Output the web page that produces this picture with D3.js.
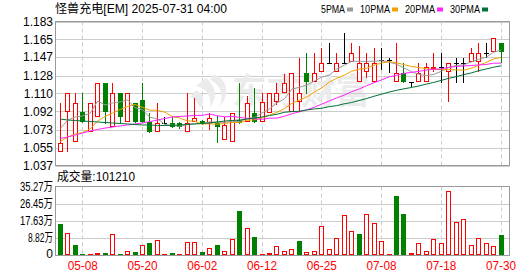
<!DOCTYPE html>
<html>
<head>
<meta charset="utf-8">
<script src="https://d3js.org/d3.v7.min.js"></script>
<style>
  body { margin: 0; background: #fff; }
  svg { display: block; }
  text { font-family: "Liberation Sans", "Noto Sans CJK SC", sans-serif; }
</style>
</head>
<body>
<svg width="530" height="276"></svg>
<script>
// ---- data ----
const title = "怪兽充电[EM] 2025-07-31 04:00";

const dates = [
  "05-05","05-06","05-07","05-08","05-09","05-12","05-13","05-14","05-15","05-16",
  "05-19","05-20","05-21","05-22","05-23","05-27","05-28","05-29","05-30","06-02",
  "06-03","06-04","06-05","06-06","06-09","06-10","06-11","06-12","06-13","06-16",
  "06-17","06-18","06-20","06-23","06-24","06-25","06-26","06-27","06-30","07-01",
  "07-02","07-03","07-07","07-08","07-09","07-10","07-11","07-14","07-15","07-16",
  "07-17","07-18","07-21","07-22","07-23","07-24","07-25","07-28","07-29","07-30"
];

const opens = [
  1.0504, 1.0909, 1.0605, 1.0909, 1.0707, 1.0865, 1.1203, 1.0757, 1.1102, 1.0808,
  1.1000, 1.1034, 1.0808, 1.0707, 1.0801, 1.0796, 1.0796, 1.0707, 1.0808, 1.0818,
  1.0798, 1.0798, 1.0629, 1.0605, 1.0828, 1.0808, 1.0902, 1.0808, 1.0899, 1.1011,
  1.1108, 1.0915, 1.1011, 1.1305, 1.1214, 1.1315, 1.1406, 1.1315, 1.1406, 1.1416,
  1.1214, 1.1315, 1.1214, 1.1436, 1.1436, 1.1214, 1.1305, 1.1214, 1.1214, 1.1214,
  1.1355, 1.1370, 1.1315, 1.1406, 1.1406, 1.1416, 1.1416, 1.1508, 1.1524, 1.1609
];
const highs = [
  1.1000, 1.1102, 1.1102, 1.1102, 1.1000, 1.1203, 1.1203, 1.1203, 1.1102, 1.1102,
  1.1000, 1.1203, 1.0900, 1.1000, 1.0857, 1.0859, 1.0810, 1.1105, 1.1051, 1.0830,
  1.0899, 1.0870, 1.0859, 1.0899, 1.1210, 1.1075, 1.1159, 1.1102, 1.1102, 1.1203,
  1.1295, 1.1305, 1.1457, 1.1508, 1.1508, 1.1558, 1.1609, 1.1508, 1.1710, 1.1609,
  1.1585, 1.1508, 1.1558, 1.1558, 1.1457, 1.1609, 1.1406, 1.1214, 1.1406, 1.1406,
  1.1508, 1.1508, 1.1406, 1.1457, 1.1457, 1.1558, 1.1609, 1.1609, 1.1660, 1.1609
];
const lows = [
  1.0504, 1.0502, 1.0605, 1.0808, 1.0707, 1.0865, 1.0801, 1.0757, 1.0801, 1.0808,
  1.0808, 1.0808, 1.0707, 1.0707, 1.0801, 1.0765, 1.0755, 1.0707, 1.0808, 1.0790,
  1.0730, 1.0605, 1.0629, 1.0605, 1.0798, 1.0808, 1.0808, 1.0808, 1.0899, 1.0983,
  1.1108, 1.0915, 1.0915, 1.1102, 1.1214, 1.1315, 1.1406, 1.1315, 1.1406, 1.1416,
  1.1214, 1.1254, 1.1214, 1.1350, 1.1321, 1.1214, 1.1214, 1.1173, 1.1214, 1.1214,
  1.1321, 1.1214, 1.1011, 1.1214, 1.1214, 1.1416, 1.1321, 1.1474, 1.1524, 1.1422
];
const closes = [
  1.0595, 1.1102, 1.1000, 1.0808, 1.1000, 1.1203, 1.0909, 1.1102, 1.0859, 1.1102,
  1.0808, 1.0808, 1.0707, 1.0801, 1.0801, 1.0765, 1.0765, 1.0796, 1.0849, 1.0798,
  1.0849, 1.0757, 1.0780, 1.0899, 1.0798, 1.1000, 1.0808, 1.1011, 1.1102, 1.1102,
  1.1203, 1.1305, 1.1102, 1.1214, 1.1305, 1.1406, 1.1406, 1.1406, 1.1406, 1.1508,
  1.1406, 1.1406, 1.1406, 1.1436, 1.1436, 1.1305, 1.1214, 1.1214, 1.1305, 1.1365,
  1.1370, 1.1370, 1.1406, 1.1406, 1.1406, 1.1508, 1.1508, 1.1508, 1.1660, 1.1518
];
const prevClose = 1.0655; // close of the day before 05-05

const volumes = [
  159600, 111700, 51500, 6700, 5000, 10000, 10000, 106600, 5000, 19000,
  15500, 49800, 61800, 75500, 5000, 10000, 5000, 65000, 65000, 15500,
  34300, 51500, 19000, 80600, 226500, 137200, 92700, 5000, 10000, 44600,
  20600, 29200, 72000, 13700, 19000, 147700, 30900, 85800, 204300, 122000,
  108100, 209500, 163200, 70500, 5000, 303800, 211100, 10000, 60000, 19000,
  80600, 60000, 329500, 168400, 183800, 49800, 85800, 60000, 44600, 101210
];

// MA values on the first days (window reaches back before 05-05)
const ma5Lead  = [1.0745, 1.0831, 1.0862, 1.0872];
const ma10Lead = [1.0613, 1.0659, 1.0689, 1.0705, 1.0740, 1.0821, 1.0867, 1.0902, 1.0938];
const ma20Lead = [1.0644, 1.0659, 1.0679, 1.0700, 1.0720, 1.0735, 1.0750, 1.0760, 1.0771, 1.0781,
                  1.0791, 1.0801, 1.0816, 1.0831, 1.0847, 1.0862, 1.0867, 1.0872, 1.0877];
const ma30Lead = [1.0841, 1.0831, 1.0826, 1.0821, 1.0816, 1.0811, 1.0806, 1.0801, 1.0796, 1.0791,
                  1.0786, 1.0781, 1.0781, 1.0776, 1.0776, 1.0776, 1.0781, 1.0786, 1.0791, 1.0796,
                  1.0801, 1.0811, 1.0821, 1.0826, 1.0831, 1.0841, 1.0852, 1.0862, 1.0877];

const priceTicks = ["1.183", "1.165", "1.147", "1.128", "1.110", "1.092", "1.073", "1.055", "1.037"];
const volTicks = ["35.27万", "26.45万", "17.63万", "8.82万", "0"];
const xTicks = ["05-08", "05-20", "06-02", "06-12", "06-25", "07-08", "07-18", "07-30"];
const maNames = ["5PMA", "10PMA", "20PMA", "30PMA"];

// ---- layout ----
const svg = d3.select("svg");
const frame = { left: 55.5, right: 509.5, pTop: 21.5, pBot: 165.5, vTop: 186.5, vBot: 255 };
const red = "#ff0000", green = "#008000", black = "#000000";
const maColors = ["#999999", "#f2a100", "#ff22ff", "#007236"];

const x = d3.scaleBand().domain(dates).range([56.6, 504.8]);
const cx = d => x(d) + x.bandwidth() / 2;
const px = d => Math.floor(cx(d)); // pixel column of the wick
const y = d3.scaleLinear().domain([1.037, 1.183]).range([frame.pBot, frame.pTop]);
const yv = d3.scaleLinear().domain([0, 352700]).range([frame.vBot, frame.vTop]);

const bars = dates.map((d, i) => ({
  date: d, o: opens[i], h: highs[i], l: lows[i], c: closes[i], v: volumes[i],
  up: closes[i] >= (i ? closes[i - 1] : prevClose)
}));

// ---- grid ----
const grid = svg.append("g");
priceTicks.forEach(t => {
  grid.append("line")
    .attr("x1", frame.left).attr("x2", frame.right)
    .attr("y1", Math.round(y(+t)) + 0.5).attr("y2", Math.round(y(+t)) + 0.5)
    .attr("stroke", "#cccccc");
});
volTicks.forEach(t => {
  const v = t === "0" ? 0 : parseFloat(t) * 10000;
  grid.append("line")
    .attr("x1", frame.left).attr("x2", frame.right)
    .attr("y1", Math.round(yv(v)) + 0.5).attr("y2", Math.round(yv(v)) + 0.5)
    .attr("stroke", "#cccccc");
});
xTicks.forEach(t => {
  [[frame.pTop, frame.pBot], [frame.vTop, frame.vBot]].forEach(([a, b]) => {
    grid.append("line")
      .attr("x1", px(t) + 0.5).attr("x2", px(t) + 0.5)
      .attr("y1", a).attr("y2", b)
      .attr("stroke", "#cccccc").attr("stroke-dasharray", "4,3");
  });
});

// watermark: logo + name
const wm = svg.append("g").attr("fill", "#ebebeb");
wm.append("path")
  .attr("d", "M214,74 C228,80 230,96 220,106 C224,94 220,84 210,80 Z M206,78 C216,86 218,98 210,107 C212,96 206,88 196,86 Z M196,90 C204,94 206,102 200,108 C198,102 194,98 190,97 Z");
svg.append("text")
  .attr("x", 232).attr("y", 104)
  .attr("font-size", 35).attr("font-weight", "bold")
  .attr("fill", "#ebebeb")
  .attr("textLength", 138).attr("lengthAdjust", "spacingAndGlyphs")
  .style("font-family", "'Noto Sans CJK SC'")
  .text("东方财富");

// ---- candles ----
const candles = svg.append("g").attr("shape-rendering", "crispEdges");
bars.forEach(b => {
  const c = px(b.date);
  const yo = Math.round(y(b.o)), yc = Math.round(y(b.c));
  const yh = Math.round(y(b.h)), yl = Math.round(y(b.l));
  const g = candles.append("g");
  if (b.c > b.o) {
    if (yh < yc) g.append("line").attr("x1", c + 0.5).attr("x2", c + 0.5).attr("y1", yh).attr("y2", yc).attr("stroke", red);
    if (yl > yo) g.append("line").attr("x1", c + 0.5).attr("x2", c + 0.5).attr("y1", yo).attr("y2", yl).attr("stroke", red);
    g.append("rect")
      .attr("x", c - 1.5).attr("width", 4)
      .attr("y", yc + 0.5).attr("height", Math.max(1, yo - yc - 1))
      .attr("fill", "#fff").attr("stroke", red);
  } else if (b.c < b.o) {
    g.append("line").attr("x1", c + 0.5).attr("x2", c + 0.5).attr("y1", yh).attr("y2", yl + 1).attr("stroke", green);
    g.append("rect")
      .attr("x", c - 2).attr("width", 5)
      .attr("y", yo).attr("height", Math.max(1, yc - yo))
      .attr("fill", green);
  } else {
    g.append("line").attr("x1", c + 0.5).attr("x2", c + 0.5).attr("y1", yh).attr("y2", yl + 1).attr("stroke", black);
    g.append("line").attr("x1", c - 2).attr("x2", c + 3).attr("y1", yo + 0.5).attr("y2", yo + 0.5).attr("stroke", black);
  }
});

// ---- moving averages ----
function movingAvg(n, lead) {
  return closes.map((c, i) => i < n - 1 ? lead[i] : d3.mean(closes.slice(i - n + 1, i + 1)));
}
const mas = [movingAvg(5, ma5Lead), movingAvg(10, ma10Lead), movingAvg(20, ma20Lead), movingAvg(30, ma30Lead)];
const line = d3.line().x((v, i) => cx(dates[i])).y(v => y(v));
mas.forEach((m, k) => {
  svg.append("path").datum(m)
    .attr("d", line)
    .attr("fill", "none")
    .attr("stroke", maColors[k])
    .attr("stroke-width", 1);
});

// ---- volume ----
const vol = svg.append("g").attr("shape-rendering", "crispEdges");
bars.forEach(b => {
  const c = px(b.date);
  const top = Math.round(yv(b.v));
  if (b.up) {
    vol.append("rect")
      .attr("x", c - 1.5).attr("width", 4)
      .attr("y", top + 0.5).attr("height", Math.max(0.5, frame.vBot - top - 1))
      .attr("fill", "#fff").attr("stroke", red);
  } else {
    vol.append("rect")
      .attr("x", c - 2).attr("width", 5)
      .attr("y", top).attr("height", Math.max(1, frame.vBot - top))
      .attr("fill", green);
  }
});

// ---- frames ----
[[frame.pTop, frame.pBot], [frame.vTop, frame.vBot + 0.5]].forEach(([a, b]) => {
  svg.append("rect")
    .attr("x", frame.left).attr("y", a)
    .attr("width", frame.right - frame.left).attr("height", b - a)
    .attr("fill", "none").attr("stroke", "#999999")
    .attr("shape-rendering", "crispEdges");
});

// ---- axis labels ----
priceTicks.forEach(t => {
  svg.append("text")
    .attr("x", 53).attr("y", y(+t) + 4.3)
    .attr("text-anchor", "end").attr("font-size", 12).attr("fill", "#000")
    .text(t);
});
volTicks.forEach(t => {
  const v = t === "0" ? 0 : parseFloat(t) * 10000;
  const txt = svg.append("text")
    .attr("x", 53).attr("y", yv(v) + 4.3 - (v === 0 ? 1.5 : 0))
    .attr("text-anchor", "end").attr("font-size", 12).attr("fill", "#000")
    .text(t);
  if (t !== "0") txt.attr("textLength", t.length > 5 ? 33 : 25).attr("lengthAdjust", "spacingAndGlyphs");
});
xTicks.forEach(t => {
  svg.append("text")
    .attr("x", cx(t)).attr("y", 270)
    .attr("text-anchor", "middle").attr("font-size", 12).attr("fill", red)
    .attr("textLength", 30).attr("lengthAdjust", "spacingAndGlyphs")
    .text(t);
});

// ---- title and legend ----
svg.append("text")
  .attr("x", 55).attr("y", 12.5).attr("font-size", 12).attr("fill", "#000")
  .attr("textLength", 172).attr("lengthAdjust", "spacingAndGlyphs")
  .text(title);

let lx = 321;
maNames.forEach((name, k) => {
  const w = name.length * 6;
  svg.append("text")
    .attr("x", lx).attr("y", 12.5).attr("font-size", 11).attr("fill", "#000")
    .attr("textLength", w).attr("lengthAdjust", "spacingAndGlyphs")
    .text(name);
  svg.append("rect")
    .attr("x", lx + w + 2).attr("y", 7.5).attr("width", 6).attr("height", 4)
    .attr("fill", maColors[k]);
  lx += w + 2 + 6 + 7;
});

svg.append("text")
  .attr("x", 57).attr("y", 180.5).attr("font-size", 12).attr("fill", "#000")
  .attr("textLength", 78).attr("lengthAdjust", "spacingAndGlyphs")
  .text("成交量:" + volumes[volumes.length - 1]);
</script>
</body>
</html>
